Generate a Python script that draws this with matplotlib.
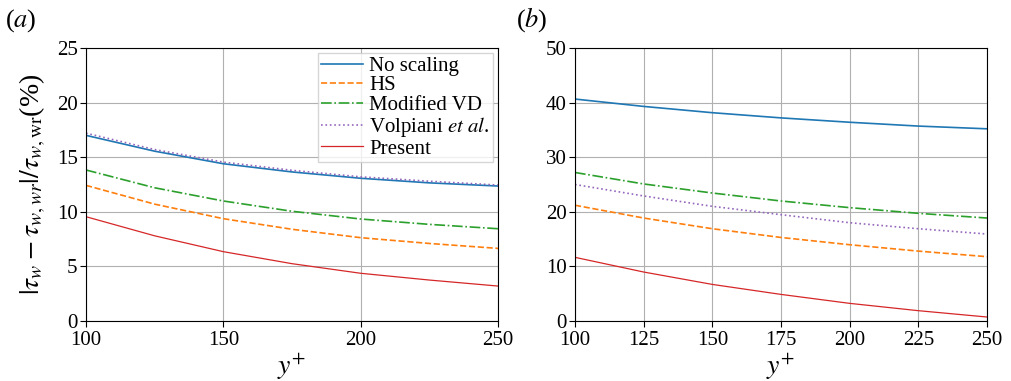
import matplotlib
matplotlib.use('Agg')
import matplotlib.pyplot as plt

plt.rcParams['font.family'] = 'Liberation Serif'
plt.rcParams['mathtext.fontset'] = 'stix'

# datos
yplus = [100, 125, 150, 175, 200, 225, 250]

a_none = [17.0, 15.55, 14.4, 13.65, 13.07, 12.65, 12.36]
a_hs = [12.42, 10.7, 9.37, 8.4, 7.63, 7.1, 6.65]
a_mvd = [13.83, 12.2, 10.99, 10.05, 9.34, 8.85, 8.45]
a_volp = [17.2, 15.7, 14.55, 13.8, 13.2, 12.8, 12.45]
a_pres = [9.55, 7.8, 6.35, 5.25, 4.37, 3.75, 3.2]

b_none = [40.65, 39.3, 38.15, 37.2, 36.4, 35.7, 35.2]
b_hs = [21.2, 18.86, 16.9, 15.3, 13.97, 12.8, 11.78]
b_mvd = [27.2, 25.1, 23.44, 21.98, 20.76, 19.72, 18.86]
b_volp = [25.0, 22.9, 21.0, 19.47, 18.0, 16.9, 15.93]
b_pres = [11.66, 8.97, 6.7, 4.87, 3.23, 1.89, 0.73]

labels = ['No scaling', 'HS', 'Modified VD', r'Volpiani $\mathit{et\ al}$.', 'Present']

fig = plt.figure(figsize=(10.11, 3.81), dpi=100)
ax1 = fig.add_axes([86/1011, 60/381, 412/1011, 273/381])
ax2 = fig.add_axes([575/1011, 60/381, 412/1011, 273/381])

def dibujar(ax, d):
    ax.plot(yplus, d[0], color='tab:blue', lw=1.2, label=labels[0])
    ax.plot(yplus, d[1], color='tab:orange', lw=1.2, ls='--', label=labels[1])
    ax.plot(yplus, d[2], color='tab:green', lw=1.2, ls='-.', label=labels[2])
    ax.plot(yplus, d[3], color='tab:purple', lw=1.2, ls=':', label=labels[3])
    ax.plot(yplus, d[4], color='tab:red', lw=0.9, label=labels[4])
    ax.grid(True, color='#b0b0b0', lw=0.8)
    ax.set_xlim(100, 250)
    ax.tick_params(labelsize=15, direction='out', length=4, pad=2)
    ax.tick_params(axis='x', pad=3)
    ax.set_xlabel(r'$y^{+}$', fontsize=20, labelpad=1)

dibujar(ax1, [a_none, a_hs, a_mvd, a_volp, a_pres])
ax1.set_ylim(0, 25)
ax1.set_xticks([100, 150, 200, 250])
ax1.set_yticks([0, 5, 10, 15, 20, 25])
ax1.set_ylabel(r'$|\tau_w - \tau_{w,wr}|/\tau_{w,\mathrm{wr}}$(%)', fontsize=20, labelpad=6)
ax1.legend(loc='upper right', fontsize=15, handlelength=2.0, labelspacing=0.0,
           borderpad=0.15, borderaxespad=0.25, handletextpad=0.3, fancybox=False)

dibujar(ax2, [b_none, b_hs, b_mvd, b_volp, b_pres])
ax2.set_ylim(0, 50)
ax2.set_xticks([100, 125, 150, 175, 200, 225, 250])
ax2.set_yticks([0, 10, 20, 30, 40, 50])

fig.text(5/1011, 1 - 27/381, '($a$)', fontsize=19)
fig.text(516/1011, 1 - 27/381, '($b$)', fontsize=19)

fig.savefig('out.png', dpi=100)
